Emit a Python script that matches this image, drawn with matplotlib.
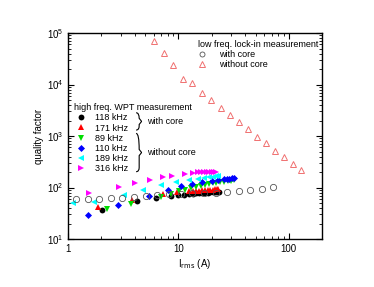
import matplotlib
matplotlib.use("Agg")
from matplotlib import pyplot as plt
from matplotlib.path import Path
from matplotlib.patches import PathPatch

plt.rcParams['font.family'] = ['Liberation Sans', 'DejaVu Sans']

# low frequency lock-in measurement
lf_core_x = [1.19, 1.51, 1.91, 2.44, 3.11, 3.96, 5.06, 6.44, 8.22, 10.5, 13.4, 17.1, 21.7, 27.7, 35.3, 44.5, 56.9, 72.6]
lf_core_y = [59, 60, 61, 63, 64, 67, 70, 73, 74, 76, 78, 79, 80, 82, 86, 90, 95, 101]
lf_nocore_x = [6.06, 7.36, 9.01, 11.0, 13.4, 16.3, 19.9, 24.2, 29.4, 35.7, 43.1, 52.0, 62.8, 75.7, 91.4, 110, 130]
lf_nocore_y = [68800, 40700, 24100, 12700, 10600, 6780, 5030, 3460, 2570, 1850, 1350, 970, 720, 518, 396, 289, 224]

# high frequency WPT measurement
f118_x = [2.03, 4.18, 6.32, 8.55, 10.0, 11.2, 12.5, 13.5, 14.5, 15.5, 16.5, 17.5, 18.5, 19.5, 20.5, 21.5, 22.5, 23.5]
f118_y = [37, 54, 62, 69, 71, 73, 75, 76, 77, 78, 79, 80, 80, 81, 82, 82, 83, 83]
f171_x = [1.85, 3.76, 7.2, 9.8, 12.5, 13.5, 14.5, 15.5, 16.5, 17.5, 18.5, 19.5, 20.5, 21.5, 22.5, 23.0]
f171_y = [42, 57, 74, 82, 84, 85, 86, 87, 88, 88, 89, 90, 91, 92, 93, 93]
f89_x = [2.25, 3.7, 6.9, 8.5, 10.2, 11.5, 13.0, 14.5, 16.0, 17.5, 19.0, 20.5, 22.0, 24.0, 26.0, 28.0, 30.0, 32.0]
f89_y = [38, 48, 67, 75, 85, 90, 97, 102, 108, 113, 117, 120, 123, 126, 129, 132, 135, 138]
f110_x = [1.5, 2.85, 5.4, 8.0, 10.5, 13.3, 16.5, 20.0, 23.0, 26.0, 27.5, 29.0, 30.5, 32.0]
f110_y = [29, 46, 70, 88, 105, 116, 127, 135, 140, 145, 147, 148, 150, 150]
f189_x = [1.12, 1.73, 3.2, 4.8, 6.9, 9.5, 12.5, 15.0, 17.0, 19.0, 20.5, 22.0, 23.0]
f189_y = [51, 52, 72, 90, 112, 128, 140, 148, 155, 160, 163, 167, 170]
f316_x = [1.56, 2.9, 4.0, 5.5, 7.2, 8.8, 11.4, 13.6, 15.0, 16.0, 17.0, 18.0, 19.0, 20.0, 21.0, 22.0]
f316_y = [79, 104, 122, 140, 158, 169, 183, 194, 196, 198, 199, 200, 201, 202, 202, 203]

fig = plt.figure(figsize=(3.74, 2.87), dpi=100)
ax = fig.add_axes([0.182, 0.167, 0.679, 0.718])

ms = 4.2
h1, = ax.plot(f118_x, f118_y, 'o', color='black', ms=ms, mew=0, label='118 kHz')
h2, = ax.plot(f171_x, f171_y, '^', color='red', ms=ms, mew=0, label='171 kHz')
h3, = ax.plot(f89_x, f89_y, 'v', color='#00dd00', ms=ms, mew=0, label='89 kHz')
h4, = ax.plot(f110_x, f110_y, 'D', color='blue', ms=ms * 0.85, mew=0, label='110 kHz')
h5, = ax.plot(f189_x, f189_y, '<', color='cyan', ms=ms, mew=0, label='189 kHz')
h6, = ax.plot(f316_x, f316_y, '>', color='magenta', ms=ms, mew=0, label='316 kHz')
l1, = ax.plot(lf_core_x, lf_core_y, 'o', mfc='none', mec='#555555', ms=4.5, mew=0.6, label='with core')
l2, = ax.plot(lf_nocore_x, lf_nocore_y, '^', mfc='none', mec='#f07070', ms=5, mew=0.7, label='without core')

ax.set_xscale('log')
ax.set_yscale('log')
ax.set_xlim(1, 200)
ax.set_ylim(10, 1e5)
ax.set_xticks([1, 10, 100])
ax.set_xticklabels(['1', '10', '100'])
ax.tick_params(which='both', direction='in', top=True, right=True, labelsize=7)
ax.tick_params(which='major', length=4, width=0.8)
ax.tick_params(which='minor', length=2, width=0.6)
for s in ax.spines.values():
    s.set_linewidth(1.0)
ax.set_xlabel(r'I$_{\rm rms}$ (A)', fontsize=7, labelpad=2)
ax.set_ylabel('quality factor', fontsize=7, labelpad=2)

leg1 = ax.legend(handles=[l1, l2], title='low freq. lock-in measurement', loc='upper right',
                 bbox_to_anchor=(1.012, 0.995), frameon=False, fontsize=6.5, title_fontsize=6.5,
                 handletextpad=1.5, labelspacing=0.08, borderpad=0.2, handlelength=0.8,
                 markerscale=0.8)
leg1._legend_box.align = 'left'
ax.add_artist(leg1)
leg2 = ax.legend(handles=[h1, h2, h3, h4, h5, h6], title='high freq. WPT measurement', loc='upper left',
                 bbox_to_anchor=(0.0, 0.69), frameon=False, fontsize=6.5, title_fontsize=6.5,
                 handletextpad=0.8, labelspacing=0.13, borderpad=0.2, handlelength=1.5)
leg2._legend_box.align = 'left'


def brace(x, y0, y1, w=0.012):
    # curly brace opening to the right, in axes coords
    ym = (y0 + y1) / 2
    codes = [Path.MOVETO, Path.CURVE3, Path.LINETO, Path.LINETO,
             Path.MOVETO, Path.LINETO, Path.LINETO, Path.CURVE3, Path.LINETO]
    verts = [(x, y1), (x + w, y1), (x + w, ym + 0.015), (x + w * 1.8, ym),
             (x + w * 1.8, ym), (x + w, ym - 0.015), (x + w, y0 + 0.02), (x + w, y0), (x, y0)]
    ax.add_patch(PathPatch(Path(verts, codes), fill=False, lw=0.8, color='black',
                           transform=ax.transAxes, clip_on=False))


brace(0.268, 0.529, 0.613)
brace(0.268, 0.327, 0.513)
ax.text(0.31, 0.571, 'with core', transform=ax.transAxes, fontsize=6.5, va='center')
ax.text(0.31, 0.42, 'without core', transform=ax.transAxes, fontsize=6.5, va='center')

fig.savefig('out.png', dpi=100)
